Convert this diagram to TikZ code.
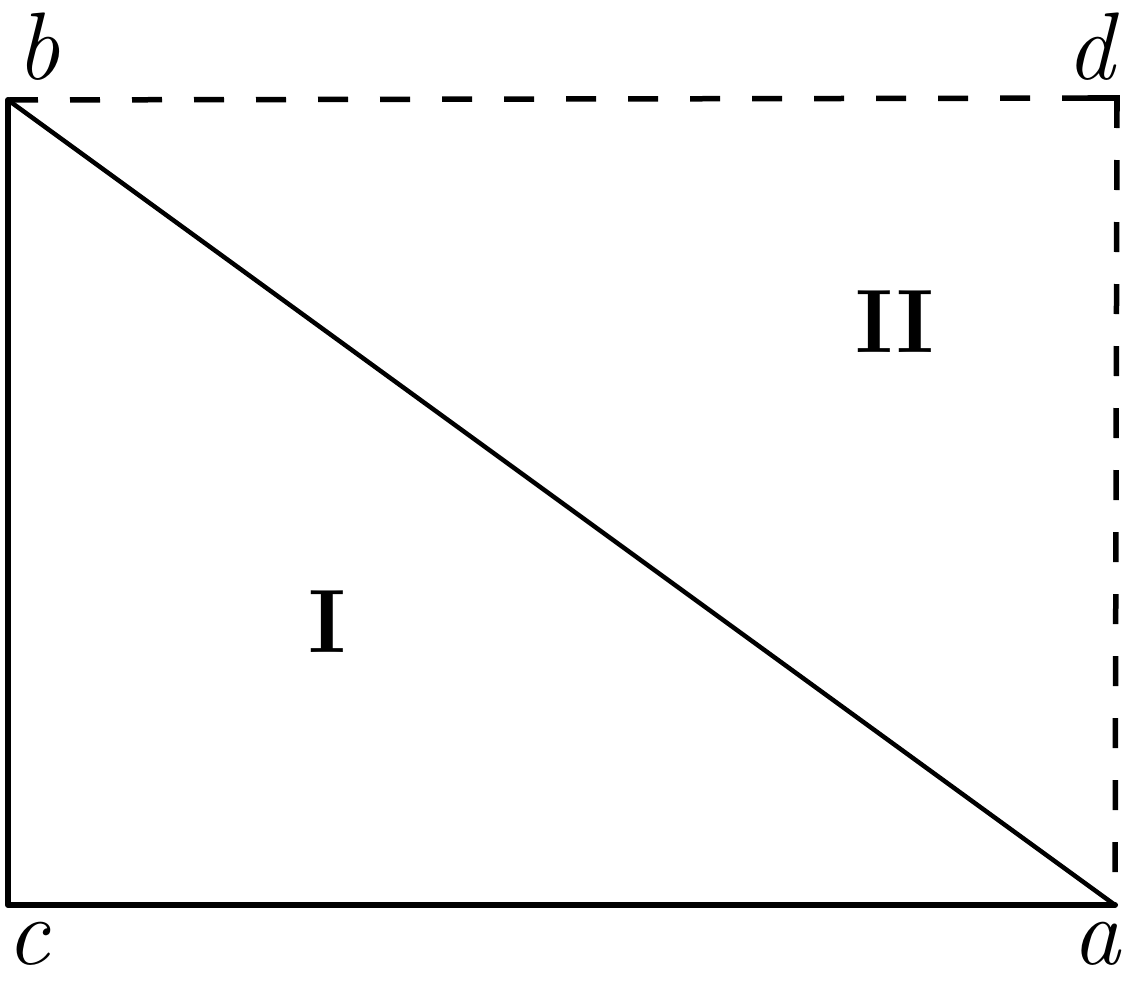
\documentclass[tikz,border=0pt]{standalone}
\begin{document}
\begin{tikzpicture}[x=1pt,y=-1pt,
  solidline/.style={line width=6pt,line cap=round,line join=round},
  diagline/.style={line width=4.5pt,line cap=round},
  dashline/.style={line width=5.5pt,dash pattern=on 30pt off 32pt},
  corner/.style={font=\fontsize{96}{96}\selectfont\itshape,inner sep=0pt},
  region/.style={font=\fontsize{90}{90}\selectfont\bfseries,inner sep=0pt}]
\useasboundingbox (0,0) rectangle (1132,980);
\coordinate (b) at (8,100);
\coordinate (d) at (1117,98);
\coordinate (c) at (8,905);
\coordinate (a) at (1115,905);
\draw[solidline] (b) -- (c) -- (a);
\draw[diagline] (b) -- (a);
\draw[dashline] (b) -- (d);
\draw[dashline] (d) -- (a);
\draw[line width=5.5pt,line cap=round] (d) ++(-28,0) -- (d) -- ++(0,12);
\node[corner] (lb) at (38,47) {b};
\node[corner] (ld) at (1090,47) {d};
\node[corner] (lc) at (28,944) {c};
\node[corner] (la) at (1096,944) {a};
\node[region] (r1) at (327,622) {I};
\node[region] (r2) at (895,322) {II};
\end{tikzpicture}
\end{document}
